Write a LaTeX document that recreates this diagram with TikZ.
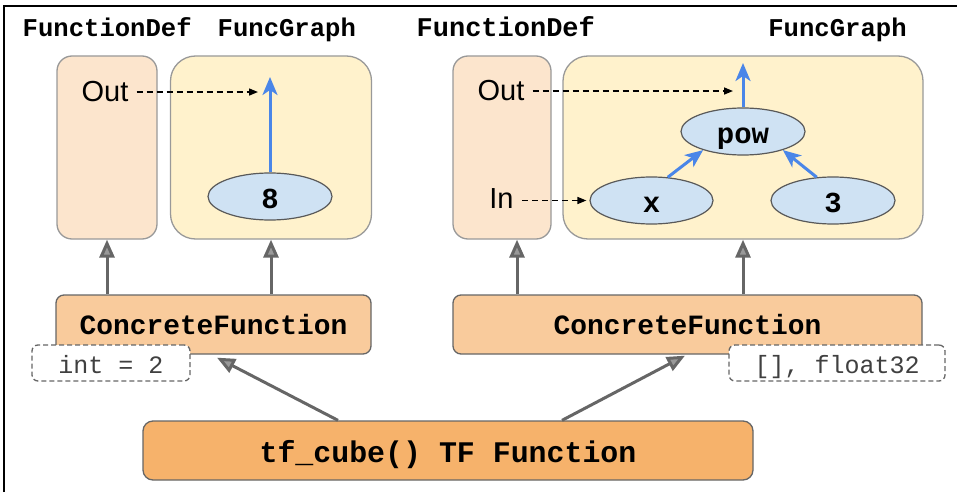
\documentclass[tikz,border=0pt]{standalone}
\usepackage{fontspec}
\setmainfont{Liberation Sans}
\newfontfamily\codefont{Liberation Mono}
\usetikzlibrary{arrows.meta,shapes.geometric}
\definecolor{fdfill}{HTML}{FCE5CD}
\definecolor{fgfill}{HTML}{FFF2CC}
\definecolor{elfill}{HTML}{CFE2F3}
\definecolor{cffill}{HTML}{F9CB9C}
\definecolor{tffill}{HTML}{F6B26B}
\definecolor{blueA}{HTML}{4A86E8}
\definecolor{grayA}{HTML}{666666}
\definecolor{grayB}{HTML}{999999}
\definecolor{grayC}{HTML}{595959}
\definecolor{txtgray}{HTML}{404040}
\begin{document}
\begin{tikzpicture}[x=1pt,y=-1pt,
  fdbox/.style={draw=grayB, line width=1.3pt, fill=fdfill, rounded corners=15pt, inner sep=0pt},
  fgbox/.style={draw=grayB, line width=1.3pt, fill=fgfill, rounded corners=25pt, inner sep=0pt},
  titletext/.style={anchor=base, inner sep=0pt, font=\codefont\bfseries\fontsize{25.6}{28}\selectfont},
  lbl/.style={anchor=base, inner xsep=8pt, inner ysep=0pt, font=\fontsize{29}{32}\selectfont},
  el/.style={ellipse, draw=grayC, line width=1.2pt, fill=elfill, minimum width=124pt, minimum height=47pt, inner sep=0pt,
    font=\codefont\bfseries\fontsize{29}{32}\selectfont, text height=23pt, text depth=0pt},
  cfbox/.style={draw=grayA, line width=1.3pt, fill=cffill, rounded corners=8pt, minimum height=59pt, inner sep=0pt,
    font=\codefont\bfseries\fontsize{27.9}{30}\selectfont, text height=19pt, text depth=0pt},
  tfbox/.style={draw=grayA, line width=1.3pt, fill=tffill, rounded corners=10pt, minimum height=59pt, inner sep=0pt,
    font=\codefont\bfseries\fontsize{29.9}{32}\selectfont, text height=23pt, text depth=0pt},
  sigbox/.style={draw=grayA, dash pattern=on 5pt off 3pt, line width=1.3pt, fill=white, rounded corners=6pt,
    minimum height=36pt, inner sep=0pt, text=txtgray,
    font=\codefont\fontsize{25}{28}\selectfont, text height=20pt, text depth=0pt},
  grayarrow/.style={draw=grayA, line width=3pt, -{Triangle[length=18pt,width=15pt,fill=grayB]}},
  bluearrow/.style={draw=blueA, line width=3pt, -{Stealth[length=18pt,width=15pt,inset=5pt]}},
  dasharrow/.style={draw=black, line width=1.5pt, dash pattern=on 6pt off 4pt, -{Triangle[length=9pt,width=7pt]}}
]
\useasboundingbox (0,0) rectangle (957,492);
% frame
\draw[line width=1.5pt] (4,492) -- (4,6) -- (957,6);

% titles
\node[titletext] (t1) at (107.2,36.5) {FunctionDef};
\node[titletext] (t2) at (286.8,36.5) {FuncGraph};
\node[titletext, font=\codefont\bfseries\fontsize{27}{30}\selectfont] (t3) at (505.8,36.5) {FunctionDef};
\node[titletext] (t4) at (837.5,36.5) {FuncGraph};

% upper boxes
\node[fdbox, minimum width=100pt, minimum height=183pt] (fd1) at (107,147.5) {};
\node[fgbox, minimum width=201pt, minimum height=183pt] (fg1) at (271,147.5) {};
\node[fdbox, minimum width=98pt, minimum height=183pt] (fd2) at (502,147.5) {};
\node[fgbox, minimum width=360pt, minimum height=183pt] (fg2) at (743,147.5) {};

% left graph
\node[lbl] (out1) at (105,102) {Out};
\node[el] (e8) at (270,196.5) {8};
\coordinate (o1) at (270,77);
\coordinate (d1) at (258,90);
\draw[bluearrow] (e8.north) -- (o1);
\draw[dasharrow] (out1.east) -- (out1.east -| d1);

% right graph
\node[lbl] (out2) at (501,101) {Out};
\node[lbl] (in2) at (501.5,208) {In};
\node[el] (pow) at (743,131.5) {pow};
\node[el, minimum width=123pt] (ex) at (651.5,200.5) {x};
\node[el] (e3) at (833,200.5) {3};
\coordinate (o2) at (743,63);
\coordinate (d2) at (733,91);
\draw[bluearrow] (pow.north) -- (o2);
\draw[bluearrow] (ex.55) -- (pow.205);
\draw[bluearrow] (e3.125) -- (pow.335);
\draw[dasharrow] (out2.east) -- (out2.east -| d2);
\draw[dasharrow, shorten >=3pt] (in2.east |- ex.west) -- (ex.west);

% concrete functions
\node[cfbox, minimum width=315pt] (cf1) at (213.5,324.5) {ConcreteFunction};
\node[cfbox, minimum width=469pt] (cf2) at (687.5,324.5) {ConcreteFunction};

% tf function
\node[tfbox, minimum width=610pt] (tf) at (448,450.5) {tf\_cube() TF Function};

% gray arrows up
\coordinate (fd2in) at ([xshift=15pt]fd2.south);
\draw[grayarrow] (fd1.south |- cf1.north) -- (fd1.south);
\draw[grayarrow] (fg1.south |- cf1.north) -- (fg1.south);
\draw[grayarrow] (fd2in |- cf2.north) -- (fd2in);
\draw[grayarrow] (fg2.south |- cf2.north) -- (fg2.south);

% tf to concrete
\draw[grayarrow] ([xshift=-110pt]tf.north) -- ([xshift=3.5pt,yshift=-3pt]cf1.south);
\draw[grayarrow] ([xshift=114pt]tf.north) -- ([xshift=-2.5pt,yshift=-1pt]cf2.south);

% signature boxes
\node[sigbox, minimum width=158pt] (sig1) at (111,363) {int = 2};
\node[sigbox, minimum width=216pt] (sig2) at (837,363) {[], float32};
\end{tikzpicture}
\end{document}
